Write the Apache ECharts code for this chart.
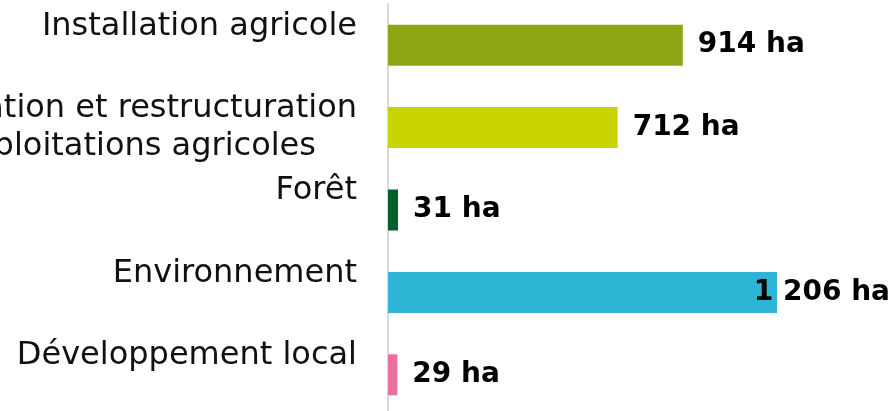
<!DOCTYPE html>
<html>
<head>
<meta charset="utf-8">
<script src="https://cdn.jsdelivr.net/npm/echarts@6/dist/echarts.min.js"></script>
<style>
html, body { margin: 0; padding: 0; background: #ffffff; }
#chart { width: 895px; height: 411px; }
</style>
</head>
<body>
<div id="chart"></div>
<script>
const categories = [
  'Installation agricole',
  'Consolidation et restructuration\ndes exploitations agricoles',
  'Forêt',
  'Environnement',
  'Développement local'
];
const values = [914, 712, 31, 1206, 29];
const unit = 'ha';
const barColors = ['#8ea616', '#c8d400', '#005f2b', '#2eb4d4', '#ec6f9f'];

function fmt(v) {
  return String(v).replace(/\B(?=(\d{3})+(?!\d))/g, ' ');
}

const chart = echarts.init(document.getElementById('chart'), null, { renderer: 'canvas' });

const seriesData = values.map((v, i) => {
  const item = { value: v, itemStyle: { color: barColors[i] } };
  if (i === 3) {
    item.label = { position: ['100%', '50%'], align: 'right', verticalAlign: 'middle', offset: [113, 0] };
  }
  return item;
});

chart.setOption({
  animation: false,
  backgroundColor: '#ffffff',
  grid: { left: 388, right: 118, top: 4, bottom: -5, containLabel: false, outerBoundsMode: 'none' },
  xAxis: {
    type: 'value',
    min: 0,
    max: 'dataMax',
    show: false,
    splitLine: { show: false }
  },
  yAxis: {
    type: 'category',
    inverse: true,
    data: categories,
    axisLine: { show: true, lineStyle: { color: '#d9d9d9', width: 2 } },
    axisTick: { show: false },
    axisLabel: {
      margin: 31,
      align: 'right',
      formatter: function (v) {
        const lines = v.split('\n');
        if (lines.length === 1) lines.push(' ');
        return lines.map(l => '{c|' + l + '}').join('\n');
      },
      rich: {
        c: {
          fontFamily: 'DejaVu Sans',
          fontSize: 32,
          lineHeight: 38,
          align: 'center',
          color: '#111111'
        }
      }
    }
  },
  series: [{
    type: 'bar',
    barWidth: 41,
    data: seriesData,
    label: {
      show: true,
      position: 'right',
      distance: 15,
      fontFamily: 'DejaVu Sans',
      fontWeight: 'bold',
      fontSize: 28,
      color: '#000000',
      formatter: p => fmt(p.value) + ' ' + unit
    }
  }]
});
</script>
</body>
</html>
